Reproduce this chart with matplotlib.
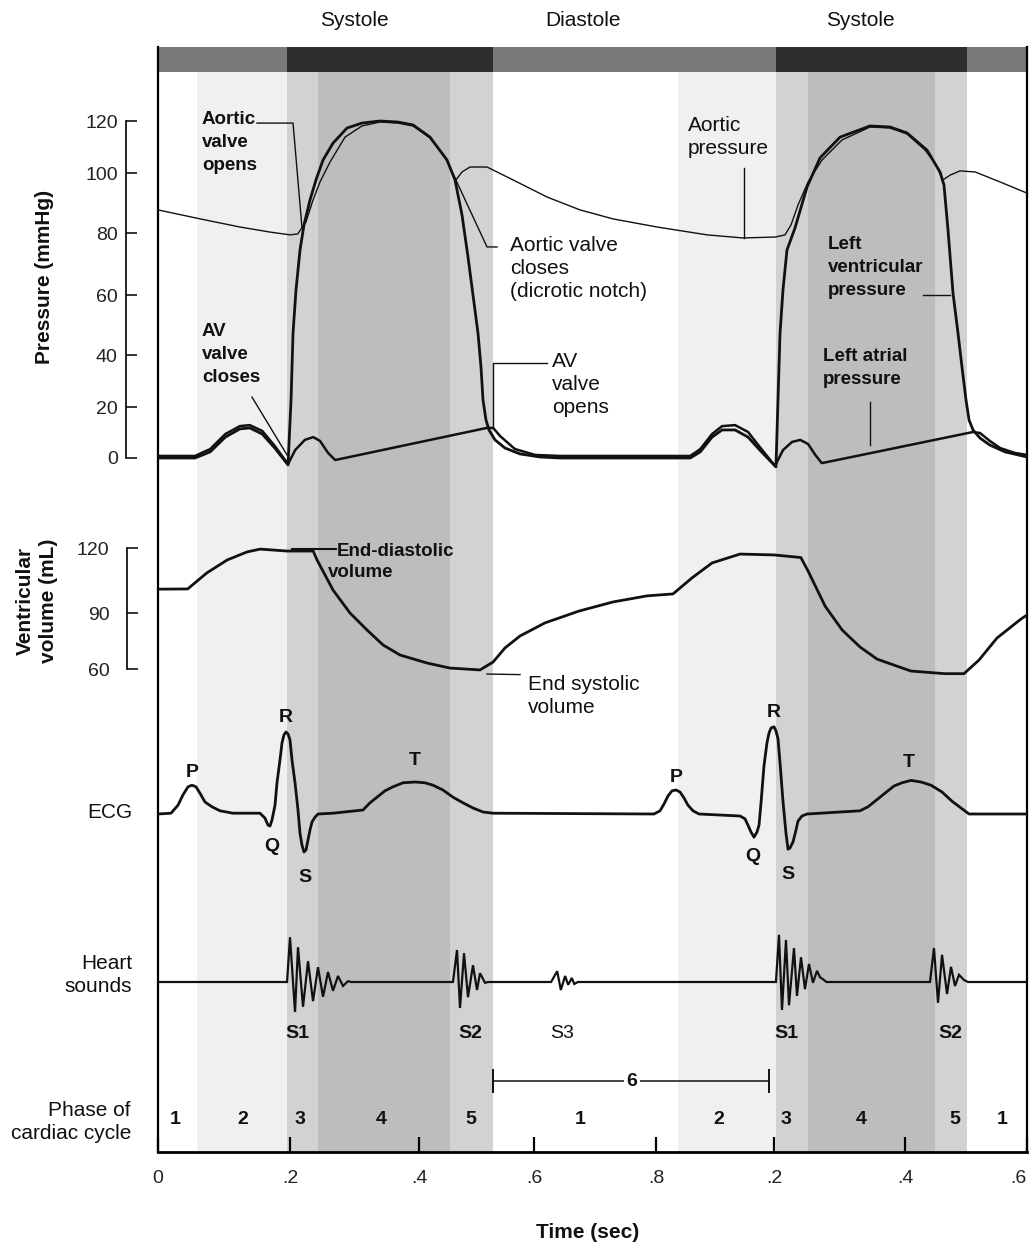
import matplotlib.pyplot as plt
import numpy as np

plt.rcParams['font.family'] = ['Liberation Sans', 'DejaVu Sans']

W, H = 1034, 1247

# ---------------- values ----------------
time_ticks = [0, 0.2, 0.4, 0.6, 0.8, 1.0, 1.2, 1.4]
time_tick_labels = ['0', '.2', '.4', '.6', '.8', '.2', '.4', '.6']
pressure_ticks = [0, 20, 40, 60, 80, 100, 120]
volume_ticks = [60, 90, 120]

# aortic pressure (mmHg)
aortic_t = [0, 0.064, 0.124, 0.170, 0.200, 0.212, 0.2248, 0.2357, 0.2465, 0.262,
            0.2853, 0.3116, 0.3395, 0.3674, 0.3907, 0.4191, 0.4452, 0.4574, 0.4643,
            0.4748, 0.4887, 0.5183, 0.5635, 0.6213, 0.6754, 0.7295, 0.8017, 0.8864,
            0.9475, 1.002, 1.0168, 1.026, 1.0366, 1.052, 1.0733, 1.1038, 1.1466,
            1.1771, 1.2033, 1.233, 1.249, 1.2623, 1.274, 1.290, 1.315, 1.356, 1.4]
aortic_p = [87.7, 84.7, 82, 80.3, 79.4, 79.7, 83.7, 91, 97, 104.2,
            113.8, 118.1, 119.6, 119.2, 118.1, 113.5, 106.2, 100.4, 97.7,
            100.4, 102.3, 102.3, 97.7, 92, 87.7, 84.7, 82, 79.4,
            78.4, 78.7, 79.4, 82.7, 89.3, 97, 105, 112.7, 117.7,
            117.3, 115, 108.8, 103.8, 97.7, 99.3, 100.8, 100.4, 97, 93.3]

# left ventricular pressure (mmHg)
lv_t = [0, 0.056, 0.079, 0.102, 0.124, 0.139, 0.158, 0.177, 0.197, 0.2016,
        0.2047, 0.2093, 0.2155, 0.2217, 0.231, 0.2403, 0.2512, 0.2667, 0.2884,
        0.3116, 0.3395, 0.3674, 0.3907, 0.4191, 0.4487, 0.4626, 0.4748, 0.4852,
        0.4939, 0.5026, 0.5078, 0.5113, 0.5165, 0.5217, 0.5322, 0.5496, 0.5757,
        0.6098, 0.6426, 0.858, 0.875, 0.895, 0.912, 0.934, 0.956, 0.976, 1.003,
        1.0061, 1.0092, 1.0137, 1.0198, 1.0321, 1.0504, 1.0702, 1.1008, 1.1466,
        1.1771, 1.2033, 1.2361, 1.2574, 1.2639, 1.2705, 1.2787, 1.2869, 1.2934,
        1.300, 1.305, 1.3115, 1.323, 1.339, 1.364, 1.4]
lv_p = [0, 0, 2.4, 8.2, 11.4, 11.8, 9.4, 3.9, -2.7, 22.7,
        47.3, 61.6, 74.5, 82.7, 91, 97.7, 105, 111.5, 117.3,
        119.2, 120, 119.6, 118.5, 113.8, 105, 97.7, 86, 72.3,
        60, 47.3, 35.4, 22.7, 14.9, 11, 7.1, 3.9, 1.6,
        0.4, 0, 0, 2.4, 8.2, 11, 11, 8.2, 3.1, -3.5,
        22.7, 47.3, 61.6, 74.5, 81.7, 95.3, 105.8, 113.8, 118.1,
        117.7, 115.4, 108.8, 100.4, 96, 81, 60.6, 47.3, 35.4,
        22.7, 14.9, 11, 7.8, 5.1, 2.4, 0.4]

# left atrial pressure (mmHg)
la_t = [0, 0.056, 0.079, 0.102, 0.124, 0.139, 0.158, 0.177, 0.197, 0.208,
        0.223, 0.236, 0.2465, 0.259, 0.270, 0.285, 0.518, 0.529, 0.541, 0.567,
        0.602, 0.643, 0.858, 0.875, 0.895, 0.912, 0.934, 0.956, 0.976, 1.0015,
        1.0137, 1.0275, 1.040, 1.052, 1.063, 1.073, 1.0885, 1.3115, 1.323,
        1.339, 1.356, 1.380, 1.4]
la_p = [0.8, 0.8, 3.5, 9.4, 12.5, 12.9, 10.6, 4.7, -2.4, 3.1,
        7.1, 8.2, 6.7, 2.0, -0.8, 0, 11.8, 11.8, 8.6, 3.5,
        1.2, 0.8, 0.8, 3.5, 9.4, 12.5, 12.9, 10.2, 4.3, -3.1,
        3.1, 6.3, 7.1, 5.5, 1.2, -2.0, -1.2, 10.2, 9.8,
        6.7, 3.9, 2.0, 1.2]

# ventricular volume (mL)
vol_t = [0, 0.045, 0.074, 0.105, 0.135, 0.155, 0.195, 0.236, 0.2419, 0.2667,
         0.293, 0.3194, 0.3442, 0.3705, 0.4139, 0.4539, 0.5061, 0.5287, 0.5496,
         0.5757, 0.618, 0.6738, 0.7295, 0.7852, 0.8288, 0.861, 0.895, 0.9424,
         1.0, 1.041, 1.052, 1.078, 1.104, 1.1313, 1.1573, 1.2098, 1.2656, 1.2967,
         1.3213, 1.3508, 1.3902, 1.4]
vol_v = [101, 101.1, 108.5, 114.5, 118.2, 119.5, 118.6, 118.6, 114.5, 100.6,
         90, 80.9, 72.9, 67.5, 63.2, 60.5, 59.5, 63.7, 71.3,
         77.7, 84.7, 90.9, 95.1, 97.9, 98.8, 106.2, 113.1, 117.2,
         116.8, 115.6, 109.4, 93.2, 80.9, 71.8, 65.3, 58.9, 57.5, 57.5,
         64.8, 76.6, 86.8, 88.9]

# ECG (mV)
ecg_t = [0, 0.0197, 0.0303, 0.0379, 0.0455, 0.0515, 0.0576, 0.0636, 0.0712, 0.0818,
         0.0939, 0.1136, 0.1545, 0.162, 0.1667, 0.1697, 0.1727, 0.1773, 0.1803, 0.1848,
         0.1879, 0.1909, 0.1939, 0.197, 0.2, 0.2031, 0.2078, 0.2124, 0.2155, 0.2186,
         0.2217, 0.2248, 0.2279, 0.231, 0.2341, 0.2388, 0.2434, 0.2667, 0.3132, 0.3240,
         0.3349, 0.3473, 0.3597, 0.3752, 0.3938, 0.4104, 0.4244, 0.4417, 0.4591, 0.4765,
         0.4939, 0.5113, 0.5287, 0.7967, 0.8068, 0.8136, 0.8203, 0.8271, 0.8339, 0.8407,
         0.8475, 0.8542, 0.8627, 0.8729, 0.9424, 0.9508, 0.9559, 0.961, 0.9661, 0.9712,
         0.9746, 0.978, 0.983, 0.9881, 0.9915, 0.9949, 1.0, 1.003, 1.0061, 1.0092,
         1.0137, 1.0183, 1.0214, 1.0244, 1.029, 1.0336, 1.0366, 1.0427, 1.0504, 1.1313,
         1.1435, 1.1542, 1.1679, 1.1832, 1.1954, 1.2098, 1.2262, 1.2426, 1.2607, 1.277,
         1.2918, 1.305, 1.4]
ecg_v = [0, 0.01, 0.11, 0.24, 0.34, 0.36, 0.34, 0.26, 0.15, 0.09,
         0.04, 0.01, 0.01, -0.05, -0.14, -0.15, -0.075, 0.11, 0.39, 0.675,
         0.89, 0.99, 1.025, 1.0, 0.925, 0.675, 0.39, 0.05, -0.24, -0.39,
         -0.475, -0.45, -0.325, -0.2, -0.1, -0.04, 0, 0.01, 0.05, 0.14,
         0.21, 0.29, 0.34, 0.39, 0.40, 0.39, 0.36, 0.30, 0.21, 0.14,
         0.075, 0.025, 0.01, 0, 0.04, 0.125, 0.225, 0.29, 0.30, 0.275,
         0.2, 0.11, 0.04, 0, -0.025, -0.06, -0.14, -0.225, -0.29, -0.225,
         -0.14, 0.14, 0.6, 0.89, 1.01, 1.075, 1.09, 1.04, 0.94, 0.64,
         0.16, -0.24, -0.44, -0.425, -0.35, -0.2, -0.09, -0.025, 0, 0.04,
         0.09, 0.16, 0.25, 0.35, 0.39, 0.42, 0.40, 0.36, 0.275, 0.16,
         0.075, 0, 0]
ecg_names = ['P', 'R', 'Q', 'S', 'T', 'P', 'R', 'Q', 'S', 'T']
ecg_name_t = [0.0515, 0.1939, 0.1727, 0.2233, 0.3938, 0.8339, 1.0, 0.9644, 1.0214, 1.2066]
ecg_name_v = [0.525, 1.21, -0.41, -0.79, 0.675, 0.46, 1.275, -0.525, -0.76, 0.65]

# heart sounds (relative amplitude)
snd_t = [0, 0.1955, 0.2, 0.2078, 0.2124, 0.2202, 0.2279, 0.2357, 0.2434, 0.2512,
         0.2589, 0.2667, 0.2744, 0.2822, 0.2899, 0.295,
         0.4591, 0.4661, 0.4713, 0.4783, 0.4852, 0.4939, 0.5009, 0.5061, 0.5148, 0.52,
         0.628, 0.638, 0.644, 0.651, 0.656, 0.662, 0.666, 0.672,
         1.003, 1.0076, 1.0122, 1.0183, 1.0229, 1.0305, 1.0351, 1.0412, 1.0473, 1.0534,
         1.0595, 1.0656, 1.0702, 1.0763, 1.08,
         1.241, 1.2475, 1.2541, 1.2607, 1.2689, 1.2754, 1.282, 1.2885, 1.2967, 1.3033, 1.4]
snd_v = [0, 0, 1.12, -0.75, 0.87, -0.62, 0.52, -0.48, 0.37, -0.37,
         0.25, -0.22, 0.15, -0.10, 0.02, 0,
         0, 0.8, -0.65, 0.72, -0.38, 0.42, -0.2, 0.22, -0.02, 0,
         0, 0.27, -0.2, 0.15, -0.07, 0.1, -0.05, 0,
         0, 1.18, -0.7, 1.05, -0.58, 0.85, -0.35, 0.62, -0.18, 0.45,
         -0.02, 0.28, 0.12, 0.05, 0,
         0, 0.85, -0.52, 0.68, -0.3, 0.38, -0.1, 0.18, 0.05, 0, 0]
snd_names = ['S1', 'S2', 'S3', 'S1', 'S2']
snd_name_t = [0.2109, 0.4887, 0.6459, 1.0183, 1.2738]

# cardiac cycle phases (s)
atrial_kick = [(0.059, 0.1955), (0.8373, 1.003)]
isovolumic = [(0.1955, 0.2434), (0.4539, 0.5287), (1.003, 1.0519), (1.2492, 1.3016)]
ejection = [(0.2434, 0.4539), (1.0519, 1.2492)]
systole = [(0.1955, 0.5287), (1.003, 1.3016)]
phase_names = ['1', '2', '3', '4', '5', '1', '2', '3', '4', '5', '1']
phase_t = [0.0258, 0.1288, 0.2155, 0.3411, 0.4904, 0.6754, 0.9068, 1.0183, 1.1328, 1.282, 1.359]
diastole_span = (0.5287, 0.9915)

# ---------------- layout of the drawing (pixels) ----------------
time_px = [158, 290, 419, 534, 656, 774, 905, 1027]
pressure_rows = [458, 407, 355, 295, 233, 173, 121]
volume_rows = [669, 613, 548]
FRAME_TOP, BAR_BOTTOM, FRAME_BOTTOM = 47, 72, 1152
ink = '#111111'


def make_scale(vals, pos):
    # piecewise-linear scale through the drawn tick positions
    v = np.asarray(vals, float)
    p = np.asarray(pos, float)
    v = np.r_[2 * v[0] - v[1], v, 2 * v[-1] - v[-2]]
    p = np.r_[2 * p[0] - p[1], p, 2 * p[-1] - p[-2]]
    if p[1] < p[0]:
        p = -p
    return (lambda a: np.interp(a, v, p)), (lambda a: np.interp(a, p, v))


def box(top, bottom):
    return [time_px[0] / W, 1 - bottom / H, (time_px[-1] - time_px[0]) / W, (bottom - top) / H]


def frac(row):
    return (FRAME_BOTTOM - row) / (FRAME_BOTTOM - FRAME_TOP)


def fig_text(x, y, s, **kw):
    fig.text(x / W, 1 - y / H, s, color=ink, **kw)


t_fwd, t_inv = make_scale(time_ticks, time_px)
p_fwd, p_inv = make_scale(pressure_ticks, pressure_rows)
v_fwd, v_inv = make_scale(volume_ticks, volume_rows)

fig = plt.figure(figsize=(W / 100, H / 100), dpi=100)

# --- background: frame, shading, phase bar, time axis ---
ax_bg = fig.add_axes(box(FRAME_TOP, FRAME_BOTTOM))
ax_bg.set_xscale('function', functions=(t_fwd, t_inv))
ax_bg.set_xlim(time_ticks[0], time_ticks[-1])
ax_bg.set_ylim(0, 1)
bar_lo = frac(BAR_BOTTOM)
for t0, t1 in atrial_kick:
    ax_bg.axvspan(t0, t1, ymin=0, ymax=bar_lo, color='#f0f0f0', lw=0)
for t0, t1 in isovolumic:
    ax_bg.axvspan(t0, t1, ymin=0, ymax=bar_lo, color='#d2d2d2', lw=0)
for t0, t1 in ejection:
    ax_bg.axvspan(t0, t1, ymin=0, ymax=bar_lo, color='#bdbdbd', lw=0)
ax_bg.axvspan(time_ticks[0], time_ticks[-1], ymin=bar_lo, ymax=1, color='#7a7a7a', lw=0)
for t0, t1 in systole:
    ax_bg.axvspan(t0, t1, ymin=bar_lo, ymax=1, color='#2e2e2e', lw=0)

for t, s in zip(phase_t, phase_names):
    ax_bg.text(t, frac(1119), s, transform=ax_bg.get_xaxis_transform(), ha='center',
               va='center', fontsize=14, fontweight='bold', color=ink)

# bracket for phase 6
xt = ax_bg.get_xaxis_transform()
ax_bg.plot(diastole_span, [frac(1081)] * 2, color=ink, lw=1.1, transform=xt)
for t in diastole_span:
    ax_bg.plot([t, t], [frac(1070), frac(1092)], color=ink, lw=1.4, transform=xt)
ax_bg.text(0.7607, frac(1082), '6', transform=xt, ha='center', va='center', fontsize=14,
           fontweight='bold', color=ink,
           bbox=dict(facecolor='white', edgecolor='none', pad=2))

ax_bg.spines['top'].set_visible(False)
for side in ['left', 'right']:
    ax_bg.spines[side].set_linewidth(1.6)
ax_bg.spines['bottom'].set_linewidth(2.0)
ax_bg.set_xticks(time_ticks, time_tick_labels)
ax_bg.tick_params(axis='x', direction='in', length=11, width=1.6, pad=13,
                  labelsize=14, labelcolor='#222222')
ax_bg.get_xticklabels()[-1].set_horizontalalignment('right')
ax_bg.tick_params(axis='y', left=False, labelleft=False)

# --- pressure panel ---
ax_p = fig.add_axes(box(100, 470), sharex=ax_bg)
ax_p.set_yscale('function', functions=(p_fwd, p_inv))
ax_p.set_ylim(p_inv(-470), p_inv(-100))
ax_p.patch.set_visible(False)
ax_p.plot(aortic_t, aortic_p, color=ink, lw=1.0, solid_joinstyle='round')
ax_p.plot(la_t, la_p, color=ink, lw=1.8, solid_joinstyle='round')
ax_p.plot(lv_t, lv_p, color=ink, lw=2.0, solid_joinstyle='round')
for side in ['top', 'right', 'bottom']:
    ax_p.spines[side].set_visible(False)
ax_p.spines['left'].set_position(('outward', 23))
ax_p.spines['left'].set_bounds(0, 120)
ax_p.spines['left'].set_linewidth(1.2)
ax_p.set_yticks(pressure_ticks)
ax_p.tick_params(axis='y', direction='in', length=8, width=1.1, pad=6,
                 labelsize=14, labelcolor='#222222')
ax_p.tick_params(axis='x', bottom=False, labelbottom=False)

pointer = dict(color=ink, lw=1.0, clip_on=False)
ax_p.plot([0.150, 0.2047, 0.2186], [119.2, 119.2, 81.7], **pointer)
ax_p.plot([0.1424, 0.1955], [23.8, 1.2], **pointer)
ax_p.plot([0.4626, 0.5183, 0.5357], [98.3, 75.5, 75.5], **pointer)
ax_p.plot([0.6213, 0.5287, 0.5287], [36.9, 36.9, 11.8], **pointer)
ax_p.plot([0.9492, 0.9492], [101.9, 78.4], **pointer)
ax_p.plot([1.2295, 1.2738], [60, 60], **pointer)
ax_p.plot([1.1466, 1.1466], [21.9, 5.1], **pointer)

bold = dict(fontsize=13.5, fontweight='bold', color=ink, ha='left', va='top', linespacing=1.45)
reg = dict(fontsize=15, color=ink, ha='left', va='top', linespacing=1.27)
ax_p.text(0.0667, 123.8, 'Aortic\nvalve\nopens', **bold)
ax_p.text(0.0667, 50.7, 'AV\nvalve\ncloses', **bold)
ax_p.text(0.5583, 79.0, 'Aortic valve\ncloses\n(dicrotic notch)', **reg)
ax_p.text(0.6295, 41.0, 'AV\nvalve\nopens', **reg)
ax_p.text(0.8542, 121.9, 'Aortic\npressure', **reg)
ax_p.text(1.0824, 79.0, 'Left\nventricular\npressure', **bold)
ax_p.text(1.0748, 42.3, 'Left atrial\npressure', **bold)

# --- volume panel ---
ax_v = fig.add_axes(box(530, 700), sharex=ax_bg)
ax_v.set_yscale('function', functions=(v_fwd, v_inv))
ax_v.set_ylim(v_inv(-700), v_inv(-530))
ax_v.patch.set_visible(False)
ax_v.plot(vol_t, vol_v, color=ink, lw=2.0, solid_joinstyle='round')
for side in ['top', 'right', 'bottom']:
    ax_v.spines[side].set_visible(False)
ax_v.spines['left'].set_position(('outward', 22))
ax_v.spines['left'].set_bounds(60, 120)
ax_v.spines['left'].set_linewidth(1.2)
ax_v.set_yticks(volume_ticks)
ax_v.tick_params(axis='y', direction='in', length=8, width=1.1, pad=13,
                 labelsize=14, labelcolor='#222222')
ax_v.tick_params(axis='x', bottom=False, labelbottom=False)
ax_v.plot([0.2031, 0.2713], [119.5, 119.5], color=ink, lw=1.5, clip_on=False)
ax_v.text(0.2729, 118.2, 'End-diastolic', **dict(bold, va='center'))
ax_v.text(0.2589, 108.5, 'volume', **dict(bold, va='center'))
ax_v.plot([0.5183, 0.5757], [57.3, 57.0], **pointer)
ax_v.text(0.5896, 56.8, 'End systolic\nvolume', **reg)

# --- ECG ---
ax_e = fig.add_axes(box(700, 900), sharex=ax_bg)
ax_e.set_ylim((814 - 900) / 80, (814 - 700) / 80)
ax_e.axis('off')
ax_e.plot(ecg_t, ecg_v, color=ink, lw=2.0, solid_joinstyle='round')
for t, v, s in zip(ecg_name_t, ecg_name_v, ecg_names):
    ax_e.text(t, v, s, ha='center', va='center', fontsize=14, fontweight='bold', color=ink)

# --- heart sounds ---
ax_h = fig.add_axes(box(920, 1050), sharex=ax_bg)
ax_h.set_ylim((982 - 1050) / 40, (982 - 920) / 40)
ax_h.axis('off')
ax_h.plot(snd_t, snd_v, color=ink, lw=1.6, solid_joinstyle='miter')
for t, s in zip(snd_name_t, snd_names):
    ax_h.text(t, -1.28, s, ha='center', va='center', fontsize=14,
              fontweight='normal' if s == 'S3' else 'bold', color=ink)

# --- labels outside the frame ---
for x, s in [(354, 'Systole'), (583, 'Diastole'), (860, 'Systole')]:
    fig_text(x, 20, s, ha='center', va='center', fontsize=15)
fig_text(45, 277, 'Pressure (mmHg)', rotation=90, ha='center', va='center',
         fontsize=15, fontweight='bold')
fig_text(37, 601, 'Ventricular\nvolume (mL)', rotation=90, ha='center', va='center',
         fontsize=15, fontweight='bold', linespacing=1.26)
fig_text(132, 975, 'Heart\nsounds', ha='right', va='center', fontsize=15,
         multialignment='right', linespacing=1.31)
fig_text(132, 812, 'ECG', ha='right', va='center', fontsize=15)
fig_text(131, 1122, 'Phase of\ncardiac cycle', ha='right', va='center', fontsize=15,
         multialignment='right', linespacing=1.21)
fig_text(588, 1233, 'Time (sec)', ha='center', va='center', fontsize=15, fontweight='bold')

fig.savefig('out.png', dpi=100)
